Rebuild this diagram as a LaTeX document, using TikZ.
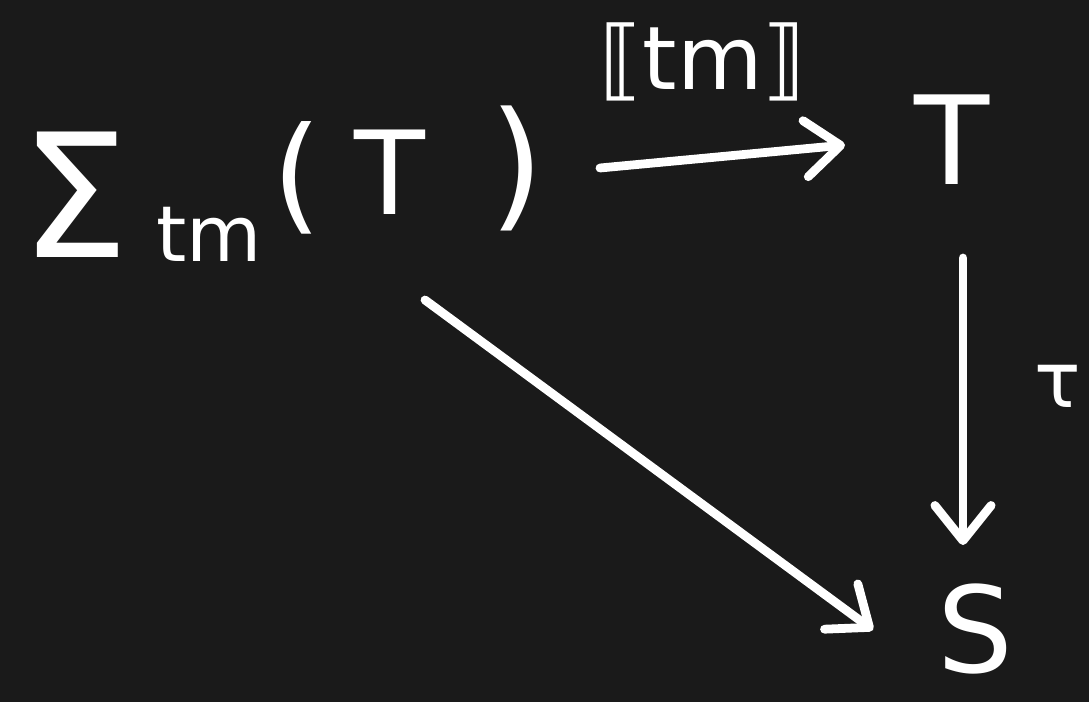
\documentclass[tikz,border=0pt]{standalone}
\usepackage{fontspec}
\setmainfont{DejaVu Sans}
\usetikzlibrary{arrows.meta}
\definecolor{bg}{HTML}{1A1A1A}
\tikzset{
  hand/.style={text=white, inner sep=0pt},
  arr/.style={draw=white, line width=5pt, line cap=round, line join=round,
    -{Straight Barb[length=20pt, width=32pt, line width=5pt, round]}}
}
\begin{document}
\begin{tikzpicture}[x=0.02cm, y=-0.02cm]
\fill[bg] (0,0) rectangle (1089,702);
\useasboundingbox (0,0) rectangle (1089,702);
% source object
\node[hand, anchor=base west, font=\fontsize{98}{98}\selectfont] (sigma) at (20,258) {Σ};
\node[hand, anchor=base west, font=\fontsize{44}{44}\selectfont] (tm) at (156,262) {tm};
\node[hand, anchor=center, font=\fontsize{72}{72}\selectfont] (lp) at (297,178) {(};
\node[hand, anchor=base, font=\fontsize{66}{66}\selectfont] (Tin) at (390,215) {T};
\node[hand, anchor=center, font=\fontsize{80}{80}\selectfont] (rp) at (517,168) {)};
% targets
\node[hand, anchor=base, font=\fontsize{70}{70}\selectfont] (T) at (952,185) {T};
\node[hand, anchor=base, font=\fontsize{68}{68}\selectfont] (S) at (975,672) {S};
% labels
\node[hand, anchor=center, font=\fontsize{50}{50}\selectfont] (lbl) at (703,62) {⟦tm⟧};
\node[hand, anchor=center, font=\fontsize{44}{44}\selectfont] (tau) at (1058,386) {τ};
% connectors
\coordinate (a0) at (600,168);
\coordinate (a1) at (845,145);
\coordinate (b0) at (963,258);
\coordinate (b1) at (963,545);
\coordinate (c0) at (425,300);
\coordinate (c1) at (873,630);
\draw[arr] (a0) -- (a1);
\draw[arr] (b0) -- (b1);
\draw[arr] (c0) -- (c1);
\end{tikzpicture}
\end{document}
